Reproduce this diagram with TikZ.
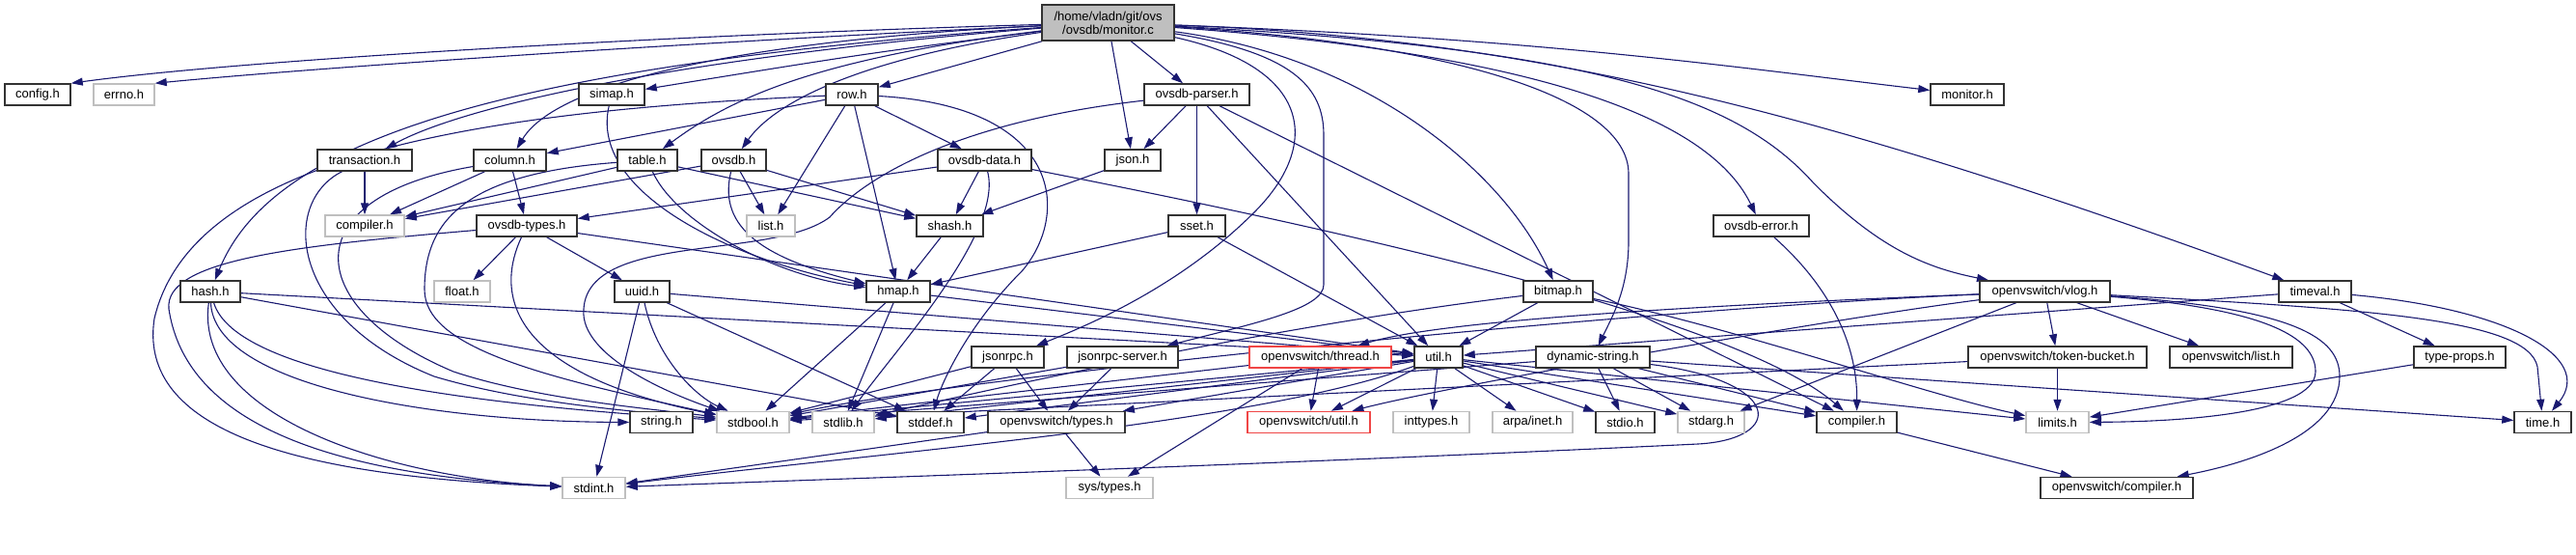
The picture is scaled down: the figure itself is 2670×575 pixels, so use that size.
\documentclass[tikz,border=0pt]{standalone}
\usepackage{fontspec}
\setmainfont{Liberation Sans}
\usetikzlibrary{arrows.meta}
\definecolor{edgeblue}{RGB}{25,25,112}
\definecolor{nodegray}{RGB}{191,191,191}
\definecolor{nodered}{RGB}{240,70,70}
\pgfdeclarelayer{bg}
\pgfsetlayers{bg,main}
\begin{document}
\begin{tikzpicture}[x=1pt,y=-1pt,
 nb/.style={draw=black!80, line width=1.5pt, rectangle, fill=white, inner sep=0pt, minimum height=22pt, font=\fontsize{13}{14}\selectfont},
 ng/.style={nb, draw=nodegray},
 nr/.style={nb, draw=nodered},
 e/.style={draw=edgeblue, line width=1.1pt, -{Triangle[length=12pt,width=8pt]}}]
\useasboundingbox (0,0) rectangle (2670,575);

% row 0
\node[nb,fill=nodegray,minimum width=137pt,minimum height=37pt,align=center] (mon) at (1148.5,23.5) {/home/vladn/git/ovs\\/ovsdb/monitor.c};
% row 1
\node[nb,minimum width=68pt] (config) at (39,98) {config.h};
\node[ng,minimum width=63pt] (errno) at (128.5,98) {errno.h};
\node[nb,minimum width=68pt] (simap) at (634,98) {simap.h};
\node[nb,minimum width=54pt] (row) at (883,98) {row.h};
\node[nb,minimum width=109pt] (ovsdbparser) at (1240.5,98) {ovsdb-parser.h};
\node[nb,minimum width=76pt] (monitorh) at (2039,98) {monitor.h};
% row 2
\node[nb,minimum width=98pt] (transaction) at (378,166) {transaction.h};
\node[nb,minimum width=75pt] (column) at (528.5,166) {column.h};
\node[nb,minimum width=62pt] (table) at (671,166) {table.h};
\node[nb,minimum width=67pt] (ovsdb) at (760.5,166) {ovsdb.h};
\node[nb,minimum width=97pt] (ovsdbdata) at (1020.5,166) {ovsdb-data.h};
\node[nb,minimum width=58pt] (json) at (1174,166) {json.h};
% row 3
\node[ng,minimum width=82pt] (compilerG) at (378,234) {compiler.h};
\node[nb,minimum width=104pt] (ovsdbtypes) at (546,234) {ovsdb-types.h};
\node[ng,minimum width=50pt] (list) at (799,234) {list.h};
\node[nb,minimum width=69pt] (shash) at (984.5,234) {shash.h};
\node[nb,minimum width=59pt] (sset) at (1240.5,234) {sset.h};
\node[nb,minimum width=99pt] (ovsdberror) at (1825.5,234) {ovsdb-error.h};
% row 4
\node[nb,minimum width=62pt] (hash) at (218,302) {hash.h};
\node[ng,minimum width=58pt] (float) at (479,302) {float.h};
\node[nb,minimum width=57pt] (uuid) at (665.5,302) {uuid.h};
\node[nb,minimum width=66pt] (hmap) at (931,302) {hmap.h};
\node[nb,minimum width=72pt] (bitmap) at (1615,302) {bitmap.h};
\node[nb,minimum width=135pt] (vlog) at (2119.5,302) {openvswitch/vlog.h};
\node[nb,minimum width=75pt] (timeval) at (2399.5,302) {timeval.h};
% row 5
\node[nb,minimum width=75pt] (jsonrpc) at (1044.5,370) {jsonrpc.h};
\node[nb,minimum width=115pt] (jsonrpcserver) at (1163.5,370) {jsonrpc-server.h};
\node[nr,minimum width=147pt] (thread) at (1368.5,370) {openvswitch/thread.h};
\node[nb,minimum width=50pt] (util) at (1491,370) {util.h};
\node[nb,minimum width=118pt] (dynstr) at (1651,370) {dynamic-string.h};
\node[nb,minimum width=185pt] (token) at (2132.5,370) {openvswitch/token-bucket.h};
\node[nb,minimum width=127pt] (ovslist) at (2312.5,370) {openvswitch/list.h};
\node[nb,minimum width=95pt] (typeprops) at (2549.5,370) {type-props.h};
% row 6
\node[nb,minimum width=65pt] (string) at (685.5,437.5) {string.h};
\node[ng,minimum width=75pt] (stdbool) at (780.5,437.5) {stdbool.h};
\node[ng,minimum width=64pt] (stdlib) at (874,437.5) {stdlib.h};
\node[nb,minimum width=69pt] (stddef) at (964.5,437.5) {stddef.h};
\node[nb,minimum width=142pt] (ovstypes) at (1095,437.5) {openvswitch/types.h};
\node[nr,minimum width=127pt] (ovsutil) at (1356.5,437.5) {openvswitch/util.h};
\node[ng,minimum width=79pt] (inttypes) at (1483.5,437.5) {inttypes.h};
\node[ng,minimum width=83pt] (arpa) at (1588.5,437.5) {arpa/inet.h};
\node[nb,minimum width=61pt] (stdio) at (1684.5,437.5) {stdio.h};
\node[ng,minimum width=69pt] (stdarg) at (1773.5,437.5) {stdarg.h};
\node[nb,minimum width=83pt] (compilerB) at (1924.5,437.5) {compiler.h};
\node[ng,minimum width=65pt] (limits) at (2132.5,437.5) {limits.h};
\node[nb,minimum width=59pt] (time) at (2635.5,437.5) {time.h};
% row 7
\node[ng,minimum width=65pt] (stdint) at (615.5,505.5) {stdint.h};
\node[ng,minimum width=90pt] (systypes) at (1150,505.5) {sys/types.h};
\node[nb,minimum width=158pt] (ovscompiler) at (2194,505.5) {openvswitch/compiler.h};

\begin{pgfonlayer}{bg}
% monitor.c
\draw[e] (mon) .. controls (700,36) and (250,62) .. (config.north east);
\draw[e] (mon) .. controls (750,42) and (350,68) .. (errno.north east);
\draw[e] (mon) .. controls (500,70) and (280,150) .. (hash);
\draw[e] (mon) .. controls (700,60) and (480,110) .. (transaction);
\draw[e] (mon) .. controls (800,40) and (580,80) .. (column);
\draw[e] (mon) .. controls (900,55) .. (simap);
\draw[e] (mon) -- (row);
\draw[e] (mon) .. controls (850,60) and (760,100) .. (table);
\draw[e] (mon) .. controls (880,62) and (800,110) .. (ovsdb);
\draw[e] (mon) -- (ovsdbparser);
\draw[e] (mon) -- (json);
\draw[e] (mon) .. controls (1360,70) and (1370,150) .. (1300,220) .. controls (1220,300) and (1120,340) .. (jsonrpc);
\draw[e] (mon) .. controls (1340,55) and (1372,90) .. (1372,140) -- (1372,295) .. controls (1372,320) and (1300,335) .. (jsonrpcserver);
\draw[e] (mon) .. controls (1420,60) and (1560,180) .. (bitmap);
\draw[e] (mon) .. controls (1500,45) and (1688,100) .. (1688,180) -- (1688,250) .. controls (1688,300) and (1670,330) .. (dynstr);
\draw[e] (mon) .. controls (1650,60) and (1780,140) .. (ovsdberror);
\draw[e] (mon) .. controls (1650,50) and (1800,100) .. (1880,190) .. controls (1950,260) and (2000,278) .. (vlog);
\draw[e] (mon) .. controls (1600,40) and (1900,120) .. (timeval);
\draw[e] (mon) .. controls (1600,40) and (1800,70) .. (monitorh);
% transaction / column / table / ovsdb
\draw[e] (transaction) -- (compilerG);
\draw[e] (transaction) .. controls (290,210) and (300,330) .. (450,390) .. controls (550,420) and (680,428) .. (stdbool);
\draw[e] (column) -- (compilerG);
\draw[e] (column) -- (ovsdbtypes);
\draw[e] (column) .. controls (300,205) and (315,320) .. (470,385) .. controls (560,415) and (690,425) .. (stdbool);
\draw[e] (table) -- (compilerG);
\draw[e] (table) .. controls (700,230) and (800,285) .. (hmap);
\draw[e] (table) -- (shash);
\draw[e] (table) .. controls (480,180) and (440,230) .. (440,300) .. controls (440,360) and (560,390) .. (stdbool);
\draw[e] (ovsdb) -- (compilerG);
\draw[e] (ovsdb) .. controls (745,230) and (780,265) .. (hmap);
\draw[e] (ovsdb) -- (list);
\draw[e] (ovsdb) -- (shash);
% row.h
\draw[e] (row) -- (column);
\draw[e] (row) .. controls (500,115) and (200,160) .. (160,330) .. controls (140,460) and (350,495) .. (stdint);
\draw[e] (row) -- (list);
\draw[e] (row) -- (hmap);
\draw[e] (row) -- (ovsdbdata);
\draw[e] (row) .. controls (1100,110) and (1110,220) .. (1060,280) .. controls (1000,340) and (975,400) .. (stddef);
% ovsdb-types / uuid / hash
\draw[e] (ovsdbtypes) -- (float);
\draw[e] (ovsdbtypes) -- (uuid);
\draw[e] (ovsdbtypes) .. controls (515,300) and (520,385) .. (stdbool);
\draw[e] (ovsdbtypes) .. controls (300,255) and (170,270) .. (175,320) .. controls (190,420) and (300,490) .. (stdint);
\draw[e] (ovsdbtypes) -- (util);
\draw[e] (uuid) -- (util);
\draw[e] (uuid) .. controls (680,370) and (720,410) .. (stdbool);
\draw[e] (uuid) -- (stddef);
\draw[e] (uuid) -- (stdint);
\draw[e] (hash) .. controls (222,400) and (450,437) .. (string);
\draw[e] (hash) .. controls (245,390) and (500,420) .. (stdbool);
\draw[e] (hash) .. controls (200,430) and (400,495) .. (stdint);
\draw[e] (hash) -- (util);
\draw[e] (hash) -- (stddef);
\draw[e] (simap) .. controls (610,200) and (760,270) .. (hmap);
% ovsdb-parser / data / json / shash / sset / hmap
\draw[e] (ovsdbparser) -- (json);
\draw[e] (ovsdbparser) -- (sset);
\draw[e] (ovsdbparser) -- (util);
\draw[e] (ovsdbparser) -- (compilerB);
\draw[e] (ovsdbparser) .. controls (1000,125) and (900,180) .. (860,225) .. controls (800,270) and (610,240) .. (605,320) .. controls (600,370) and (700,410) .. (stdbool);
\draw[e] (ovsdbdata) -- (ovsdbtypes);
\draw[e] (ovsdbdata) -- (shash);
\draw[e] (ovsdbdata) .. controls (1040,240) and (930,360) .. (stdlib);
\draw[e] (ovsdbdata) .. controls (1400,240) and (1800,330) .. (compilerB);
\draw[e] (json) -- (shash);
\draw[e] (shash) -- (hmap);
\draw[e] (sset) -- (hmap);
\draw[e] (sset) -- (util);
\draw[e] (hmap) -- (util);
\draw[e] (hmap) -- (stdbool);
\draw[e] (hmap) -- (stdlib);
% bitmap
\draw[e] (bitmap) -- (util);
\draw[e] (bitmap) .. controls (1800,340) and (2000,410) .. (limits);
\draw[e] (bitmap) .. controls (1300,340) and (1000,410) .. (stdlib);
% jsonrpc
\draw[e] (jsonrpc) -- (stdbool);
\draw[e] (jsonrpc) -- (stddef);
\draw[e] (jsonrpc) -- (ovstypes);
\draw[e] (jsonrpcserver) -- (stdbool);
\draw[e] (jsonrpcserver) -- (ovstypes);
% thread
\draw[e] (thread) -- (ovsutil);
\draw[e] (thread) -- (stdbool);
\draw[e] (thread) -- (systypes);
% util
\draw[e] (util) -- (inttypes);
\draw[e] (util) -- (arpa);
\draw[e] (util) -- (stdio);
\draw[e] (util) -- (stdarg);
\draw[e] (util) -- (limits);
\draw[e] (util) -- (compilerB);
\draw[e] (util) -- (ovsutil);
\draw[e] (util) -- (ovstypes);
\draw[e] (util) -- (stddef);
\draw[e] (util) -- (stdbool);
\draw[e] (util) -- (stdlib);
\draw[e] (util) .. controls (1300,440) and (900,470) .. (stdint);
% dynamic-string
\draw[e] (dynstr) -- (stdio);
\draw[e] (dynstr) -- (stdarg);
\draw[e] (dynstr) -- (compilerB);
\draw[e] (dynstr) -- (time);
\draw[e] (dynstr) -- (stdbool);
\draw[e] (dynstr) .. controls (1850,395) and (1850,455) .. (1760,460) .. controls (1300,482) and (900,495) .. (stdint);
% openvswitch/types etc.
\draw[e] (ovstypes) -- (systypes);
\draw[e] (ovstypes) -- (stdint);
\draw[e] (ovsdberror) .. controls (1900,300) and (1925,360) .. (compilerB);
\draw[e] (compilerB) -- (ovscompiler);
% vlog
\draw[e] (vlog) -- (token);
\draw[e] (vlog) -- (ovslist);
\draw[e] (vlog) -- (stdarg);
\draw[e] (vlog) .. controls (1800,315) and (1500,330) .. (thread);
\draw[e] (vlog) .. controls (1900,330) and (1500,400) .. (ovsutil);
\draw[e] (vlog) .. controls (1700,320) and (1000,390) .. (stdbool);
\draw[e] (vlog) .. controls (2350,320) and (2400,350) .. (2400,385) .. controls (2400,430) and (2250,437) .. (limits);
\draw[e] (vlog) .. controls (2380,320) and (2425,350) .. (2425,390) .. controls (2425,450) and (2330,480) .. (ovscompiler);
\draw[e] (vlog) .. controls (2450,320) and (2620,330) .. (2630,380) -- (time);
\draw[e] (token) -- (limits);
\draw[e] (token) -- (stdbool);
% timeval
\draw[e] (timeval) .. controls (2600,320) and (2690,370) .. (time);
\draw[e] (timeval) -- (typeprops);
\draw[e] (timeval) -- (util);
\draw[e] (typeprops) -- (limits);
\end{pgfonlayer}
\end{tikzpicture}
\end{document}
